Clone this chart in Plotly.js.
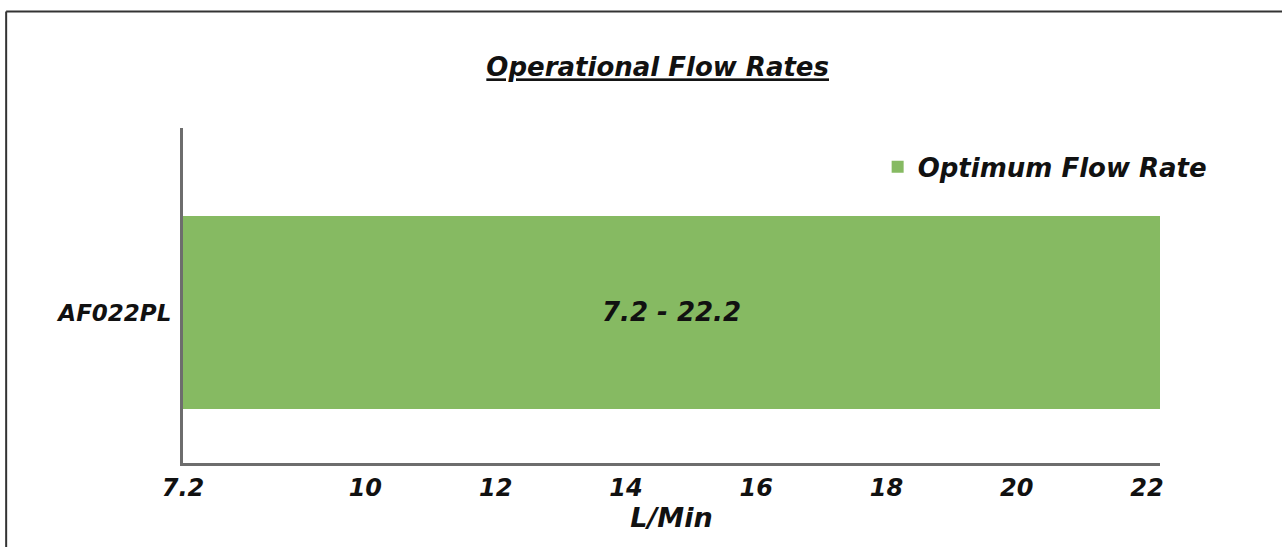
<!DOCTYPE html>
<html>
<head>
<meta charset="utf-8">
<script src="https://cdn.plot.ly/plotly-3.0.1.min.js"></script>
<style>html,body{margin:0;padding:0;background:#fff;}#chart{width:1282px;height:547px;}</style>
</head>
<body>
<div id="chart"></div>
<script>
const categories = ["AF022PL"];
const rangeStart = [7.2];
const rangeEnd = [22.2];
const seriesName = "Optimum Flow Rate";
const barLabels = ["7.2 - 22.2"];
const tickValues = [7.2, 10, 12, 14, 16, 18, 20, 22];
const tickLabels = ["7.2", "10", "12", "14", "16", "18", "20", "22"];

const FONT = "DejaVu Sans, sans-serif";
const fnt = (size) => ({family: FONT, size: size, color: "#111", weight: 700, style: "italic"});

const trace = {
  type: "bar",
  orientation: "h",
  y: categories,
  base: rangeStart,
  x: rangeEnd.map((e, i) => e - rangeStart[i]),
  name: seriesName,
  width: 1,
  marker: {color: "#86BA62", line: {width: 0}},
  text: barLabels,
  textposition: "inside",
  insidetextanchor: "middle",
  textfont: fnt(26),
  hoverinfo: "skip",
  showlegend: true
};

const layout = {
  width: 1282, height: 547,
  margin: {l: 183, r: 122, t: 128, b: 84},
  paper_bgcolor: "#fff", plot_bgcolor: "#fff",
  title: {text: "<u>Operational Flow Rates</u>", font: fnt(26), x: 0.513, xanchor: "center", y: 0.877, yanchor: "middle"},
  showlegend: true,
  legend: {x: 0.711, xanchor: "left", y: 0.884, yanchor: "middle", font: fnt(26), bgcolor: "rgba(0,0,0,0)", itemwidth: 30},
  bargap: 0,
  xaxis: {
    range: [7.2, 22.2], tickmode: "array", tickvals: tickValues, ticktext: tickLabels,
    showgrid: false, zeroline: false, showline: true, linecolor: "#6d6d6d", linewidth: 3,
    ticks: "", tickfont: fnt(24), ticklabelstandoff: 1,
    title: {text: "L/Min", font: fnt(27), standoff: 4},
    fixedrange: true
  },
  yaxis: {
    type: "category", range: [-0.78, 0.956],
    showgrid: false, zeroline: false, showline: true, linecolor: "#6d6d6d", linewidth: 3,
    ticks: "", tickfont: fnt(23), ticklabelstandoff: 4,
    fixedrange: true
  },
  shapes: [
    {type: "line", xref: "paper", yref: "paper", x0: -0.181, x1: 1.3, y0: 1.348, y1: 1.348, line: {color: "#333", width: 2}, layer: "below"},
    {type: "line", xref: "paper", yref: "paper", x0: -0.181, x1: -0.181, y0: 1.348, y1: -0.4, line: {color: "#333", width: 2}, layer: "below"}
  ]
};

Plotly.newPlot("chart", [trace], layout, {displayModeBar: false, staticPlot: true});
</script>
</body>
</html>
